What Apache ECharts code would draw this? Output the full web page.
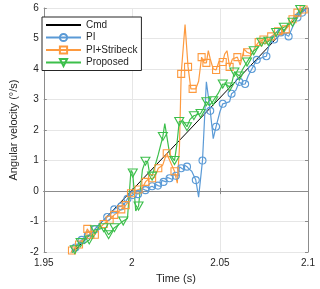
<!DOCTYPE html>
<html><head><meta charset="utf-8">
<script src="https://cdn.jsdelivr.net/npm/echarts@6/dist/echarts.min.js"></script>
<style>html,body{margin:0;padding:0;background:#fff}#c{width:320px;height:289px}</style>
</head><body><div id="c"></div>
<script>
// ---- data ----
const xTicks = [1.95, 2, 2.05, 2.1];
const yTicks = [-2, -1, 0, 1, 2, 3, 4, 5, 6];
const seriesNames = ['Cmd', 'PI', 'PI+Stribeck', 'Proposed'];

const cmdLine = [[1.9667, -2.0], [2.0985, 6.0], [2.1010, 6.15]];

const piLine = [[1.9640,-2.2],[1.9700,-1.7],[1.9730,-1.55],[1.9770,-1.4],[1.9820,-1.05],[1.9880,-0.75],[1.9920,-0.52],[1.9960,-0.4],[1.9990,-0.15],[2.0020,-0.05],[2.0050,-0.02],[2.0060,0.08],[2.0095,0.0],[2.0100,0.12],[2.0130,0.1],[2.0135,0.22],[2.0165,0.15],[2.0170,0.35],[2.0195,0.3],[2.0200,0.45],[2.0230,0.38],[2.0235,0.55],[2.0265,0.5],[2.0270,0.8],[2.0295,0.7],[2.0300,0.85],[2.0325,0.72],[2.0340,0.65],[2.0379,-0.2],[2.0423,3.58],[2.0462,1.72],[2.0500,2.6],[2.0540,2.9],[2.0555,2.93],[2.0590,3.3],[2.0625,3.5],[2.0660,3.77],[2.0695,4.15],[2.0730,4.35],[2.0750,4.4],[2.0780,4.81],[2.0825,5.0],[2.0870,5.15],[2.0912,5.37],[2.0995,6.0],[2.1010,6.2]];
const piMarks = [[1.9680,-1.85],[1.9715,-1.6],[1.9750,-1.45],[1.9790,-1.25],[1.9860,-0.85],[1.9900,-0.6],[1.9940,-0.5],[1.9975,-0.25],[2.0005,-0.13],[2.0035,-0.1],[2.0077,0.03],[2.0115,0.16],[2.0148,0.18],[2.0180,0.3],[2.0214,0.42],[2.0250,0.5],[2.0280,0.75],[2.0313,0.8],[2.0363,0.36],[2.0401,1.0],[2.0445,2.63],[2.0478,2.11],[2.0516,2.86],[2.0566,3.19],[2.0610,3.58],[2.0643,3.51],[2.0681,4.0],[2.0709,4.3],[2.0764,4.42],[2.0808,4.97],[2.0846,5.2],[2.0890,5.07],[2.0940,5.69],[2.0967,5.85]];

const psLine = [[1.9640,-2.2],[1.9725,-1.6],[1.9780,-1.5],[1.9810,-1.25],[1.9920,-0.7],[1.9980,-0.35],[2.0015,0.0],[2.0060,0.1],[2.0095,0.4],[2.0130,0.45],[2.0175,0.85],[2.0215,1.0],[2.0258,0.26],[2.0270,1.4],[2.0302,5.46],[2.0335,3.35],[2.0363,3.35],[2.0379,3.6],[2.0410,4.2],[2.0434,4.6],[2.0445,4.33],[2.0462,4.0],[2.0495,4.26],[2.0527,4.49],[2.0540,4.6],[2.0571,4.33],[2.0615,4.13],[2.0637,4.65],[2.0681,4.49],[2.0703,4.75],[2.0765,4.85],[2.0810,5.15],[2.0850,5.1],[2.0895,5.45],[2.0995,6.1],[2.1010,6.2]];
const psMarks = [[1.9660,-1.95],[1.9700,-1.75],[1.9747,-1.24],[1.9765,-1.43],[1.9790,-1.43],[1.9840,-1.08],[1.9874,-0.94],[1.9900,-0.78],[1.9940,-0.6],[1.9965,-0.46],[1.9995,-0.07],[2.0038,0.05],[2.0077,0.3],[2.0115,0.42],[2.0150,0.75],[2.0198,1.24],[2.0242,0.65],[2.0280,3.84],[2.0319,4.07],[2.0345,3.35],[2.0396,4.39],[2.0423,4.2],[2.0478,3.97],[2.0516,4.23],[2.0555,4.07],[2.0599,4.39],[2.0654,4.55],[2.0720,4.88],[2.0747,4.97],[2.0791,5.07],[2.0830,5.24],[2.0874,5.3],[2.0912,5.63],[2.0940,5.85],[2.0975,5.95]];

const prLine = [[1.9640,-2.2],[1.9690,-1.75],[1.9730,-1.72],[1.9775,-1.45],[1.9815,-1.25],[1.9855,-1.3],[1.9880,-1.35],[1.9925,-1.1],[1.9975,-0.9],[1.9995,0.68],[2.0022,-0.65],[2.0060,0.7],[2.0090,0.95],[2.0100,0.6],[2.0150,1.2],[2.0187,2.21],[2.0215,1.2],[2.0255,1.5],[2.0290,2.3],[2.0330,2.35],[2.0370,2.5],[2.0405,2.7],[2.0440,2.8],[2.0490,3.2],[2.0535,3.5],[2.0570,3.6],[2.0595,3.85],[2.0630,4.0],[2.0672,4.4],[2.0715,4.7],[2.0755,4.82],[2.0797,5.0],[2.0840,5.3],[2.0885,5.45],[2.0935,5.75],[2.0985,6.1],[2.1010,6.2]];
const prMarks = [[1.9676,-1.92],[1.9709,-1.69],[1.9758,-1.6],[1.9791,-1.27],[1.9840,-1.2],[1.9868,-1.43],[1.9901,-1.2],[1.9951,-0.98],[2.0005,0.59],[2.0038,-0.49],[2.0077,0.98],[2.0115,0.49],[2.0176,1.79],[2.0242,1.0],[2.0269,2.28],[2.0313,2.11],[2.0352,2.47],[2.0390,2.54],[2.0423,2.93],[2.0462,2.96],[2.0516,3.51],[2.0555,3.41],[2.0582,3.9],[2.0610,3.77],[2.0654,4.23],[2.0692,4.6],[2.0736,4.88],[2.0775,4.91],[2.0819,5.2],[2.0863,5.37],[2.0912,5.53],[2.0956,5.95]];

// ---- build ----
function merge(line, marks) {
  const a = line.map(p => ({ value: p, symbol: 'none' }));
  const b = marks.map(p => ({ value: p }));
  return a.concat(b).sort((p, q) => p.value[0] - q.value[0]);
}
const FONT = 'Liberation Sans, Arial, Helvetica, sans-serif';
const TXT = '#262626';
const AX = '#8c8c8c';
const colors = ['#000000', '#5a9ad6', '#fd9a3f', '#3cbf4b'];
const triDown = 'path://M0,0 L10,0 L5,8.66 Z';

function mkSeries(name, data, color, symbol, size) {
  return {
    name, type: 'line', data, symbol, symbolSize: size, showAllSymbol: true,
    lineStyle: { color, width: 1.2 },
    itemStyle: { color: 'rgba(255,255,255,0)', borderColor: color, borderWidth: 1.1 },
    emphasis: { disabled: true }, silent: true
  };
}

const chart = echarts.init(document.getElementById('c'), null, { renderer: 'canvas' });
const fmtX = v => String(+v.toFixed(2));
chart.setOption({
  animation: false,
  textStyle: { fontFamily: FONT },
  grid: { left: 35, right: 12, top: 8, bottom: 35, containLabel: false },
  legend: {
    data: [
      { name: seriesNames[0], itemStyle: { opacity: 0 } },
      seriesNames[1], seriesNames[2], seriesNames[3]
    ],
    orient: 'vertical', left: 42, top: 17,
    itemWidth: 35, itemHeight: 9, itemGap: 2.5,
    padding: [3, 4, 3, 3],
    backgroundColor: '#fff', borderColor: '#262626', borderWidth: 1,
    textStyle: { fontSize: 10, color: TXT, fontFamily: FONT },
    selectedMode: false
  },
  xAxis: [{
    type: 'value', min: 1.95, max: 2.1, interval: 0.05,
    name: 'Time (s)', nameLocation: 'middle', nameGap: 16,
    nameTextStyle: { fontSize: 11, color: TXT, fontFamily: FONT },
    axisLine: { show: true, lineStyle: { color: AX } },
    axisTick: { show: true, inside: true, length: 3, lineStyle: { color: AX } },
    axisLabel: { fontSize: 10, color: TXT, margin: 6, formatter: fmtX, customValues: xTicks },
    splitLine: { show: true, lineStyle: { color: '#e6e6e6' } }
  }, {
    type: 'value', min: 1.95, max: 2.1, interval: 0.05, position: 'top',
    axisLine: { show: true, lineStyle: { color: AX } },
    axisTick: { show: true, inside: true, length: 3, lineStyle: { color: AX } },
    axisLabel: { show: false }, splitLine: { show: false }
  }],
  yAxis: [{
    type: 'value', min: -2, max: 6, interval: 1,
    name: 'Angular velocity (°/s)', nameLocation: 'middle', nameGap: 20,
    nameTextStyle: { fontSize: 11, color: TXT, fontFamily: FONT },
    axisLine: { show: true, lineStyle: { color: AX } },
    axisTick: { show: true, inside: true, length: 3, lineStyle: { color: AX } },
    axisLabel: { fontSize: 10, color: TXT, margin: 5, customValues: yTicks },
    splitLine: { show: true, lineStyle: { color: '#e6e6e6' } }
  }, {
    type: 'value', min: -2, max: 6, interval: 1, position: 'right',
    axisLine: { show: true, lineStyle: { color: AX } },
    axisTick: { show: true, inside: true, length: 3, lineStyle: { color: AX } },
    axisLabel: { show: false }, splitLine: { show: false }
  }],
  series: [
    { name: 'Cmd', type: 'line', data: cmdLine, symbol: 'none',
      lineStyle: { color: '#000', width: 1 }, itemStyle: { color: '#000' }, silent: true, z: 2 },
    mkSeries('PI', merge(piLine, piMarks), colors[1], 'circle', 7),
    mkSeries('PI+Stribeck', merge(psLine, psMarks), colors[2], 'rect', 7),
    mkSeries('Proposed', merge(prLine, prMarks), colors[3], triDown, [9, 8])
  ]
});
</script></body></html>
